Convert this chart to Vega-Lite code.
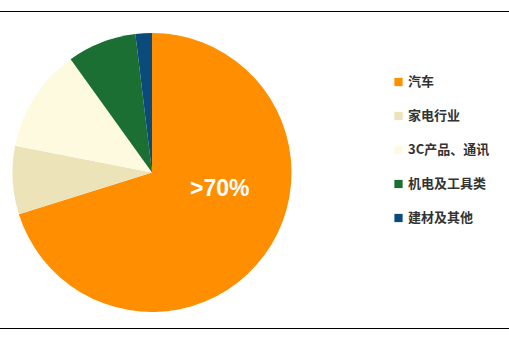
{
  "$schema": "https://vega.github.io/schema/vega-lite/v6.json",
  "width": 509,
  "height": 317,
  "autosize": {"type": "none"},
  "padding": {"top": 11.5, "left": 0, "right": 0, "bottom": 10.5},
  "background": "white",
  "view": {"stroke": null},
  "config": {
    "font": "Noto Sans CJK SC",
    "legend": {
      "orient": "none",
      "legendX": 392,
      "legendY": 64,
      "title": null,
      "symbolType": "square",
      "symbolSize": 68,
      "symbolStrokeWidth": 0,
      "labelFont": "Noto Sans CJK SC",
      "labelFontSize": 13,
      "labelFontWeight": "bold",
      "labelColor": "#333333",
      "labelOffset": 3,
      "rowPadding": 20
    }
  },
  "layer": [
    {
      "data": {
        "values": [
          {"sector": "汽车", "share": 70.1, "label": ">70%"},
          {"sector": "家电行业", "share": 7.9, "label": ""},
          {"sector": "3C产品、通讯", "share": 12.0, "label": ""},
          {"sector": "机电及工具类", "share": 8.0, "label": ""},
          {"sector": "建材及其他", "share": 1.9, "label": ""}
        ]
      },
      "transform": [
        {"window": [{"op": "row_number", "as": "seq"}]}
      ],
      "encoding": {
        "theta": {"field": "share", "type": "quantitative", "stack": true},
        "order": {"field": "seq", "type": "quantitative"}
      },
      "layer": [
        {
          "mark": {"type": "arc", "outerRadius": 139.5, "x": 152, "y": 161},
          "encoding": {
            "color": {
              "field": "sector",
              "type": "nominal",
              "sort": null,
              "scale": {
                "domain": ["汽车", "家电行业", "3C产品、通讯", "机电及工具类", "建材及其他"],
                "range": ["#FF8E00", "#EDE3B9", "#FEFAE0", "#1B6F33", "#0B4B7C"]
              }
            }
          }
        },
        {
          "mark": {
            "type": "text",
            "x": 152,
            "y": 161,
            "radius": 68,
            "dx": 13,
            "dy": -24,
            "font": "Liberation Sans",
            "fontSize": 23,
            "fontWeight": "bold",
            "color": "white",
            "align": "center",
            "baseline": "middle"
          },
          "encoding": {
            "text": {"field": "label", "type": "nominal"}
          }
        }
      ]
    },
    {
      "data": {"values": [{}]},
      "mark": {"type": "rule", "color": "black", "strokeWidth": 1},
      "encoding": {"y": {"value": 0}}
    },
    {
      "data": {"values": [{}]},
      "mark": {"type": "rule", "color": "black", "strokeWidth": 1},
      "encoding": {"y": {"value": "height"}}
    }
  ]
}
